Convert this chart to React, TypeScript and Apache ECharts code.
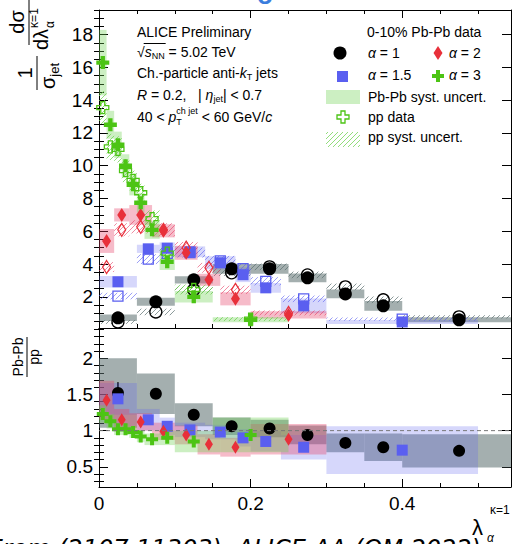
import React, { useEffect, useRef } from 'react';
import * as echarts from 'echarts';

const FONT = '"Liberation Sans", Arial, Helvetica, sans-serif';

// ---------- axes ----------
const X_MAX = 0.5435;
const X_TICK_LABELS = [0, 0.2, 0.4];
const X_MINOR_TICKS = [0.05, 0.1, 0.15, 0.25, 0.3, 0.35, 0.45, 0.5];
const TOP_Y_RANGE = [0.1, 19.5];
const TOP_Y_TICK_LABELS = [2, 4, 6, 8, 10, 12, 14, 16, 18];
const RATIO_Y_RANGE = [0.22, 2.42];
const RATIO_Y_TICK_LABELS = [0.5, 1, 1.5, 2];

// ---------- alpha = 1 ----------
const a1Edges = [0, 0.05, 0.1, 0.15, 0.2, 0.25, 0.3, 0.35, 0.4, 0.55];
const a1PbPb = [0.72, 1.7, 3.04, 3.71, 3.71, 3.16, 2.18, 1.45, 0.6];
const a1PbPbSys = [0.2, 0.25, 0.22, 0.3, 0.3, 0.27, 0.27, 0.3, 0.15];
const a1pp = [0.47, 1.08, 2.43, 3.47, 3.83, 3.34, 2.61, 1.82, 0.78];
const a1ppSys = [0.12, 0.2, 0.2, 0.2, 0.2, 0.2, 0.2, 0.2, 0.1];
const a1Ratio = [1.52, 1.51, 1.22, 1.06, 1.03, 0.94, 0.83, 0.77, 0.72];
const a1RatioSys = [0.48, 0.28, 0.16, 0.12, 0.12, 0.13, 0.13, 0.19, 0.23];
const a1RatioStat = [0.15, 0.05, 0.04, 0.03, 0.03, 0.03, 0.03, 0.04, 0.04];

// ---------- alpha = 1.5 ----------
const a15Edges = [0, 0.05, 0.08, 0.1, 0.14, 0.18, 0.2, 0.24, 0.3, 0.5];
const a15PbPb = [2.92, 4.93, 4.97, 4.75, 4.08, 3.35, 2.55, 1.45, 0.47];
const a15PbPbSys = [0.35, 0.25, 0.35, 0.33, 0.4, 0.45, 0.3, 0.45, 0.12];
const a15pp = [2.05, 4.3, 4.65, 4.7, 4.2, 3.72, 2.95, 1.88, 0.64];
const a15ppSys = [0.2, 0.3, 0.3, 0.3, 0.3, 0.3, 0.25, 0.2, 0.1];
const a15Ratio = [1.44, 1.15, 1.06, 1.01, 0.98, 0.9, 0.85, 0.77, 0.73];
const a15RatioSys = [0.22, 0.15, 0.12, 0.1, 0.1, 0.12, 0.14, 0.17, 0.33];

// ---------- alpha = 2 ----------
const a2Edges = [0, 0.02, 0.04, 0.07, 0.1, 0.13, 0.16, 0.2, 0.3];
const a2PbPb = [5.41, 7.0, 7.0, 6.03, 4.69, 3.04, 1.88, 0.9];
const a2PbPbSys = [0.73, 0.4, 0.6, 0.4, 0.43, 0.37, 0.4, 0.22];
const a2pp = [3.82, 6.09, 6.27, 6.09, 5.0, 3.77, 2.43, 1.02];
const a2ppSys = [0.3, 0.4, 0.4, 0.4, 0.35, 0.3, 0.25, 0.15];
const a2Ratio = [1.42, 1.15, 1.12, 0.99, 0.94, 0.81, 0.77, 0.88];
const a2RatioSys = [0.27, 0.15, 0.12, 0.12, 0.13, 0.14, 0.13, 0.21];

// ---------- alpha = 3 ----------
const a3Edges = [0, 0.01, 0.02, 0.03, 0.04, 0.05, 0.06, 0.08, 0.1, 0.15, 0.25];
const a3PbPb = [16.29, 12.5, 11.28, 10.0, 8.84, 7.74, 6.09, 4.14, 2.0, 0.6];
const a3PbPbSys = [2.0, 0.85, 0.8, 0.7, 0.65, 0.6, 0.55, 0.5, 0.35, 0.15];
const a3pp = [13.55, 11.15, 11.0, 9.7, 9.1, 8.35, 6.77, 4.67, 2.45, 0.64];
const a3ppSys = [1.0, 0.8, 0.8, 0.7, 0.6, 0.55, 0.5, 0.4, 0.3, 0.12];
const a3Ratio = [1.23, 1.13, 1.02, 1.02, 0.98, 0.92, 0.88, 0.9, 0.85, 0.94];
const a3RatioSys = [0.12, 0.1, 0.08, 0.08, 0.08, 0.08, 0.08, 0.1, 0.15, 0.24];

// ---------- styles ----------
const C_BLACK = '#000000';
const C_BLUE = '#5a5ff0';
const C_RED = '#e8303a';
const C_GREEN = '#4cc414';
const BOX_GRAY = 'rgba(90,110,110,0.55)';
const BOX_BLUE = 'rgba(90,95,240,0.25)';
const BOX_RED = 'rgba(230,60,100,0.35)';
const BOX_GREEN = 'rgba(110,210,80,0.35)';
const HATCH_GRAY = 'rgba(90,110,110,0.7)';
const HATCH_BLUE = 'rgba(90,95,240,0.6)';
const HATCH_RED = 'rgba(230,60,100,0.6)';
const HATCH_GREEN = 'rgba(110,210,80,0.75)';
const CROSS = 'path://M1,0H2V1H3V2H2V3H1V2H0V1H1Z';

const ctx = typeof document !== 'undefined' ? document.createElement('canvas').getContext('2d') : null;
function tw(t: string, size: number, italic = false, family = FONT) {
  if (!ctx) return t.length * size * 0.55;
  ctx.font = `${italic ? 'italic ' : ''}${size}px ${family}`;
  return ctx.measureText(t).width;
}

type Run = { t: string; s?: number; it?: boolean; dy?: number; stack?: boolean; gap?: number };
function runs(x: number, y: number, parts: Run[], base = 14, fill = '#000') {
  const els: any[] = [];
  let cx = x;
  let prevStart = x;
  let prevEnd = x;
  for (const p of parts) {
    const s = p.s ?? base;
    const start = p.stack ? prevStart : cx + (p.gap ?? 0);
    const w = tw(p.t, s, p.it);
    els.push({
      type: 'text',
      x: start,
      y: y + (p.dy ?? 0),
      silent: true,
      style: { text: p.t, fill, font: `${p.it ? 'italic ' : ''}${s}px ${FONT}`, align: 'left', verticalAlign: 'middle' },
    });
    const end = start + w;
    cx = p.stack ? Math.max(prevEnd, end) : end;
    prevStart = start;
    prevEnd = cx;
  }
  return { els, end: cx };
}

const centers = (edges: number[]) => edges.slice(0, -1).map((e, i) => (e + edges[i + 1]) / 2);
const boxes = (edges: number[], v: number[], s: number[]) =>
  v.map((y, i) => [edges[i], edges[i + 1], y - s[i], y + s[i]]);

function minorTicks(lo: number, hi: number, step: number, majors: number[]) {
  const out: number[] = [];
  for (let k = 1; k * step <= hi + 1e-9; k++) {
    const r = Math.round(k * step * 1000) / 1000;
    if (r >= lo && !majors.some((m) => Math.abs(m - r) < 1e-6)) out.push(r);
  }
  return out;
}

function boxSeries(xi: number, data: number[][], fill: string) {
  return {
    type: 'custom',
    xAxisIndex: xi,
    yAxisIndex: xi,
    clip: true,
    silent: true,
    data,
    renderItem: (params: any, api: any) => {
      const a = api.coord([api.value(0), api.value(3)]);
      const b = api.coord([api.value(1), api.value(2)]);
      return { type: 'rect', shape: { x: a[0], y: a[1], width: b[0] - a[0], height: b[1] - a[1] }, style: { fill } };
    },
  };
}

function hatchSeries(xi: number, data: number[][], stroke: string) {
  return {
    type: 'custom',
    xAxisIndex: xi,
    yAxisIndex: xi,
    clip: true,
    silent: true,
    data,
    renderItem: (params: any, api: any) => {
      const a = api.coord([api.value(0), api.value(3)]);
      const b = api.coord([api.value(1), api.value(2)]);
      const L = a[0], T = a[1], R = b[0], B = b[1];
      const step = 5;
      const children: any[] = [];
      for (let c = Math.ceil((L + T) / step) * step; c < R + B; c += step) {
        const xa = Math.max(L, c - B);
        const xb = Math.min(R, c - T);
        if (xb > xa + 0.5) {
          children.push({ type: 'line', shape: { x1: xa, y1: c - xa, x2: xb, y2: c - xb }, style: { stroke, lineWidth: 1 } });
        }
      }
      return { type: 'group', children };
    },
  };
}

function errSeries(xi: number, xs: number[], v: number[], e: number[], stroke: string) {
  return {
    type: 'custom',
    xAxisIndex: xi,
    yAxisIndex: xi,
    clip: true,
    silent: true,
    data: xs.map((x, i) => [x, v[i] - e[i], v[i] + e[i]]),
    renderItem: (params: any, api: any) => {
      const a = api.coord([api.value(0), api.value(2)]);
      const b = api.coord([api.value(0), api.value(1)]);
      return { type: 'line', shape: { x1: a[0], y1: a[1], x2: b[0], y2: b[1] }, style: { stroke, lineWidth: 1.5 } };
    },
  };
}

function markSeries(xi: number, xs: number[], v: number[], symbol: string, size: any, color: string, open = false) {
  return {
    type: 'scatter',
    xAxisIndex: xi,
    yAxisIndex: xi,
    silent: true,
    symbol,
    symbolSize: size,
    data: xs.map((x, i) => [x, v[i]]),
    itemStyle: open
      ? { color: 'rgba(255,255,255,0)', borderColor: color, borderWidth: 1.3, opacity: 1 }
      : { color, opacity: 1 },
    emphasis: { disabled: true },
  };
}

function buildOption() {
  const topMinor = minorTicks(TOP_Y_RANGE[0], TOP_Y_RANGE[1], 0.5, TOP_Y_TICK_LABELS);
  const ratioMinor = minorTicks(RATIO_Y_RANGE[0], RATIO_Y_RANGE[1], 0.1, RATIO_Y_TICK_LABELS);
  const black = { color: '#000', width: 1 };

  const mkX = (gi: number, bottomTicks: boolean, topTicks: boolean, labels: boolean, maj: number, min: number) => {
    const base = { type: 'value', gridIndex: gi, min: 0, max: X_MAX, splitLine: { show: false } };
    const line = { show: true, onZero: false, lineStyle: black };
    return [
      {
        ...base, position: 'bottom', axisLine: line,
        axisTick: { show: bottomTicks, inside: true, length: maj, customValues: X_TICK_LABELS, lineStyle: black },
        axisLabel: { show: labels, customValues: X_TICK_LABELS, fontSize: 19, fontFamily: FONT, color: '#000', margin: 7 },
      },
      {
        ...base, position: 'bottom', axisLine: { show: false },
        axisTick: { show: bottomTicks, inside: true, length: min, customValues: X_MINOR_TICKS, lineStyle: black },
        axisLabel: { show: false },
      },
      {
        ...base, position: 'top', axisLine: line,
        axisTick: { show: topTicks, inside: true, length: maj, customValues: X_TICK_LABELS, lineStyle: black },
        axisLabel: { show: false },
      },
      {
        ...base, position: 'top', axisLine: { show: false },
        axisTick: { show: topTicks, inside: true, length: min, customValues: X_MINOR_TICKS, lineStyle: black },
        axisLabel: { show: false },
      },
    ];
  };
  const mkY = (gi: number, range: number[], majors: number[], minors: number[], maj: number, min: number) => {
    const base = { type: 'value', gridIndex: gi, min: range[0], max: range[1], splitLine: { show: false } };
    const line = { show: true, onZero: false, lineStyle: black };
    return [
      {
        ...base, position: 'left', axisLine: line,
        axisTick: { inside: true, length: maj, customValues: majors, lineStyle: black },
        axisLabel: { show: true, customValues: majors, fontSize: 19, fontFamily: FONT, color: '#000', margin: 6 },
      },
      {
        ...base, position: 'left', axisLine: { show: false },
        axisTick: { inside: true, length: min, customValues: minors, lineStyle: black },
        axisLabel: { show: false },
      },
      {
        ...base, position: 'right', axisLine: line,
        axisTick: { inside: true, length: maj, customValues: majors, lineStyle: black },
        axisLabel: { show: false },
      },
      {
        ...base, position: 'right', axisLine: { show: false },
        axisTick: { inside: true, length: min, customValues: minors, lineStyle: black },
        axisLabel: { show: false },
      },
    ];
  };

  const series: any[] = [];
  // alpha = 1
  const c1 = centers(a1Edges);
  series.push(boxSeries(0, boxes(a1Edges, a1PbPb, a1PbPbSys), BOX_GRAY));
  series.push(hatchSeries(0, boxes(a1Edges, a1pp, a1ppSys), HATCH_GRAY));
  series.push(markSeries(0, c1, a1pp, 'circle', 12, C_BLACK, true));
  series.push(markSeries(0, c1, a1PbPb, 'circle', 13, C_BLACK));
  series.push(boxSeries(4, boxes(a1Edges, a1Ratio, a1RatioSys), BOX_GRAY));
  series.push(errSeries(4, c1, a1Ratio, a1RatioStat, C_BLACK));
  series.push(markSeries(4, c1, a1Ratio, 'circle', 12, C_BLACK));
  // alpha = 1.5
  const c15 = centers(a15Edges);
  series.push(boxSeries(0, boxes(a15Edges, a15PbPb, a15PbPbSys), BOX_BLUE));
  series.push(hatchSeries(0, boxes(a15Edges, a15pp, a15ppSys), HATCH_BLUE));
  series.push(markSeries(0, c15, a15pp, 'rect', 10, C_BLUE, true));
  series.push(markSeries(0, c15, a15PbPb, 'rect', 11, C_BLUE));
  series.push(boxSeries(4, boxes(a15Edges, a15Ratio, a15RatioSys), BOX_BLUE));
  series.push(markSeries(4, c15, a15Ratio, 'rect', 11, C_BLUE));
  // alpha = 2
  const c2 = centers(a2Edges);
  series.push(boxSeries(0, boxes(a2Edges, a2PbPb, a2PbPbSys), BOX_RED));
  series.push(hatchSeries(0, boxes(a2Edges, a2pp, a2ppSys), HATCH_RED));
  series.push(markSeries(0, c2, a2pp, 'diamond', [8, 13], C_RED, true));
  series.push(markSeries(0, c2, a2PbPb, 'diamond', [9, 14], C_RED));
  series.push(boxSeries(4, boxes(a2Edges, a2Ratio, a2RatioSys), BOX_RED));
  series.push(markSeries(4, c2, a2Ratio, 'diamond', [8, 13], C_RED));
  // alpha = 3
  const c3 = centers(a3Edges);
  series.push(boxSeries(0, boxes(a3Edges, a3PbPb, a3PbPbSys), BOX_GREEN));
  series.push(hatchSeries(0, boxes(a3Edges, a3pp, a3ppSys), HATCH_GREEN));
  series.push(markSeries(0, c3, a3pp, CROSS, 12, C_GREEN, true));
  series.push(markSeries(0, c3, a3PbPb, CROSS, 13, C_GREEN));
  series.push(boxSeries(4, boxes(a3Edges, a3Ratio, a3RatioSys), BOX_GREEN));
  series.push(markSeries(4, c3, a3Ratio, CROSS, 12, C_GREEN));
  // unity line
  series.push({
    type: 'line', xAxisIndex: 4, yAxisIndex: 4, silent: true, symbol: 'none',
    data: [[0, 1], [X_MAX, 1]],
    lineStyle: { color: '#777', width: 1, type: [4, 3] },
  });

  // ---------- texts ----------
  const g: any[] = [];
  const crossPts = (cx: number, cy: number, s: number) => {
    const h = s / 2, a = s / 6;
    return [[cx - a, cy - h], [cx + a, cy - h], [cx + a, cy - a], [cx + h, cy - a], [cx + h, cy + a], [cx + a, cy + a],
      [cx + a, cy + h], [cx - a, cy + h], [cx - a, cy + a], [cx - h, cy + a], [cx - h, cy - a], [cx - a, cy - a]];
  };
  // left info block
  g.push(...runs(137, 32, [{ t: 'ALICE Preliminary' }]).els);
  const r2a = runs(137, 52, [{ t: '√' }]);
  const r2b = runs(r2a.end, 52, [{ t: 's', it: true }, { t: 'NN', s: 9, dy: 4 }]);
  const r2c = runs(r2b.end, 52, [{ t: ' = 5.02 TeV' }]);
  g.push(...r2a.els, ...r2b.els, ...r2c.els);
  g.push({ type: 'line', silent: true, shape: { x1: r2a.end - 1, y1: 43.5, x2: r2b.end + 1, y2: 43.5 }, style: { stroke: '#000', lineWidth: 1 } });
  g.push(...runs(137, 73, [{ t: 'Ch.-particle anti-' }, { t: 'k', it: true }, { t: 'T', s: 9, dy: 4 }, { t: ' jets' }]).els);
  g.push(...runs(137, 95, [{ t: 'R', it: true }, { t: ' = 0.2,   | ' }, { t: 'η', it: true }, { t: 'jet', s: 9, dy: 4 }, { t: '| < 0.7' }]).els);
  g.push(...runs(137, 117, [{ t: '40 < ' }, { t: 'p', it: true }, { t: 'T', s: 9, dy: 5 }, { t: 'ch jet', s: 9, dy: -6, stack: true }, { t: ' < 60 GeV/' }, { t: 'c', it: true }]).els);

  // right legend
  g.push(...runs(367, 32, [{ t: '0-10% Pb-Pb data' }]).els);
  g.push({ type: 'circle', silent: true, shape: { cx: 340, cy: 53, r: 6.5 }, style: { fill: C_BLACK } });
  g.push(...runs(368, 53, [{ t: 'α', it: true }, { t: ' = 1' }]).els);
  g.push({ type: 'polygon', silent: true, shape: { points: [[438, 46], [442.5, 53], [438, 60], [433.5, 53]] }, style: { fill: C_RED } });
  g.push(...runs(449, 53, [{ t: 'α', it: true }, { t: ' = 2' }]).els);
  g.push({ type: 'rect', silent: true, shape: { x: 337, y: 71, width: 11, height: 11 }, style: { fill: C_BLUE } });
  g.push(...runs(368, 75, [{ t: 'α', it: true }, { t: ' = 1.5' }]).els);
  g.push({ type: 'polygon', silent: true, shape: { points: crossPts(438, 76, 12) }, style: { fill: C_GREEN } });
  g.push(...runs(449, 75, [{ t: 'α', it: true }, { t: ' = 3' }]).els);
  g.push({ type: 'rect', silent: true, shape: { x: 326, y: 90, width: 34, height: 14 }, style: { fill: BOX_GREEN } });
  g.push(...runs(368, 97, [{ t: 'Pb-Pb syst. uncert.' }]).els);
  g.push({ type: 'polygon', silent: true, shape: { points: crossPts(343, 117, 12) }, style: { fill: 'none', stroke: C_GREEN, lineWidth: 1.3 } });
  g.push(...runs(368, 117, [{ t: 'pp data' }]).els);
  {
    const L = 326, T = 132, R = 360, B = 147, step = 5;
    for (let c = Math.ceil((L + T) / step) * step; c < R + B; c += step) {
      const xa = Math.max(L, c - B), xb = Math.min(R, c - T);
      if (xb > xa + 0.5) g.push({ type: 'line', silent: true, shape: { x1: xa, y1: c - xa, x2: xb, y2: c - xb }, style: { stroke: HATCH_GREEN, lineWidth: 1 } });
    }
  }
  g.push(...runs(368, 137, [{ t: 'pp syst. uncert.' }]).els);

  // top y-axis title (rotated)
  const yt: any[] = [];
  const txt = (x: number, y: number, t: string, s: number, align = 'center', italic = false) => ({
    type: 'text', x, y, silent: true,
    style: { text: t, fill: '#000', font: `${italic ? 'italic ' : ''}${s}px ${FONT}`, align, verticalAlign: 'middle' },
  });
  yt.push(txt(17, -5, '1', 20));
  yt.push({ type: 'line', shape: { x1: 0, y1: 7, x2: 34, y2: 7 }, style: { stroke: '#000', lineWidth: 1 } });
  yt.push(txt(1, 18, 'σ', 20, 'left'));
  yt.push(txt(1 + tw('σ', 20), 24, 'jet', 13, 'left'));
  yt.push(txt(68, -13, 'dσ', 20));
  yt.push({ type: 'line', shape: { x1: 45, y1: -1, x2: 90, y2: -1 }, style: { stroke: '#000', lineWidth: 1 } });
  yt.push(txt(40, 11, 'dλ', 20, 'left'));
  const dlw = 40 + tw('dλ', 20);
  yt.push(txt(dlw + 1, 4, 'κ=1', 12, 'left'));
  yt.push(txt(dlw + 1, 20, 'α', 12, 'left'));
  g.push({ type: 'group', x: 30, y: 90, rotation: Math.PI / 2, children: yt });

  // ratio y-axis title (rotated)
  g.push({
    type: 'group', x: 27, y: 357, rotation: Math.PI / 2,
    children: [
      txt(0, -9, 'Pb-Pb', 14),
      { type: 'line', shape: { x1: -20, y1: 0, x2: 20, y2: 0 }, style: { stroke: '#000', lineWidth: 1 } },
      txt(0, 7, 'pp', 14),
    ],
  });

  // x-axis title
  g.push(txt(472, 527, 'λ', 22, 'left'));
  g.push(txt(490, 510, 'κ=1', 12, 'left'));
  g.push(txt(487, 538, 'α', 12, 'left', true));

  // footer (cropped at the bottom edge)
  const footFont = 24;
  const footFam = '"DejaVu Sans", sans-serif';
  const footX = 58 - tw('From ', footFont, true, footFam);
  g.push({
    type: 'text', x: footX, y: 549, silent: true,
    style: { text: 'From (2107.11303), ALICE AA (QM 2022)', fill: '#000', font: `italic ${footFont}px ${footFam}`, align: 'left', verticalAlign: 'middle' },
  });
  // cropped title glyph
  g.push({
    type: 'text', x: 265, y: -5, silent: true,
    style: { text: 'o', fill: '#3b7ddd', font: `bold 26px ${FONT}`, align: 'center', verticalAlign: 'middle' },
  });

  return {
    animation: false,
    backgroundColor: '#fff',
    grid: [
      { left: 99, right: 2, top: 10, height: 318 },
      { left: 99, right: 2, top: 328, height: 159 },
    ],
    xAxis: [...mkX(0, true, true, false, 8, 4), ...mkX(1, true, false, true, 8, 4)],
    yAxis: [
      ...mkY(0, TOP_Y_RANGE, TOP_Y_TICK_LABELS, topMinor, 9, 5),
      ...mkY(1, RATIO_Y_RANGE, RATIO_Y_TICK_LABELS, ratioMinor, 9, 5),
    ],
    series,
    graphic: { elements: g },
  };
}

export default function App() {
  const ref = useRef<HTMLDivElement>(null);
  useEffect(() => {
    const chart = echarts.init(ref.current!, undefined, { renderer: 'svg' });
    chart.setOption(buildOption() as any);
    return () => chart.dispose();
  }, []);
  return <div ref={ref} style={{ position: 'absolute', left: 0, top: 0, width: 513, height: 544 }} />;
}
